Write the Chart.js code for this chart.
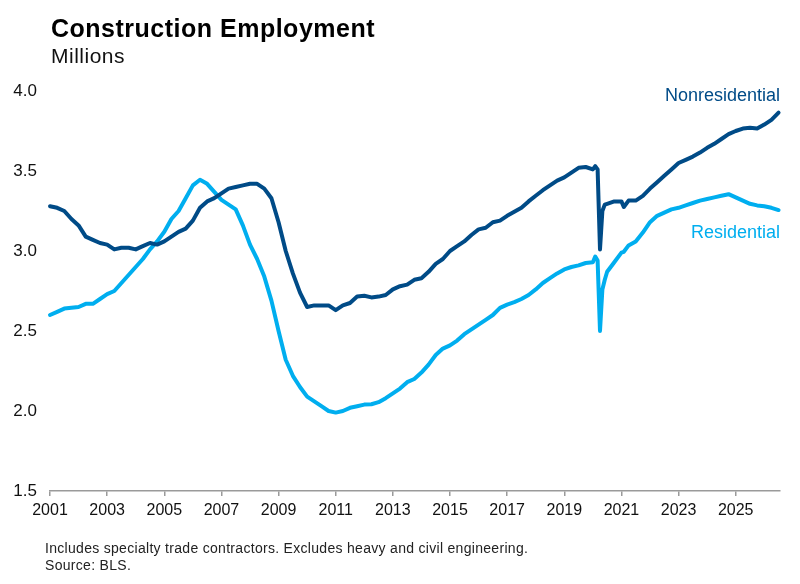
<!DOCTYPE html>
<html>
<head>
<meta charset="utf-8">
<script src="https://cdn.jsdelivr.net/npm/chart.js@4.4.1/dist/chart.umd.min.js"></script>
<style>
  html, body { margin: 0; padding: 0; background: #fff; }
  #wrap { position: relative; width: 800px; height: 584px; }
</style>
</head>
<body>
<div id="wrap"><canvas id="mychart" width="800" height="584"></canvas></div>
<script>
// construction employment, millions
const dates = [
  '2001-01','2001-04','2001-07','2001-10',
  '2002-01','2002-04','2002-07','2002-10',
  '2003-01','2003-04','2003-07','2003-10',
  '2004-01','2004-04','2004-07','2004-10',
  '2005-01','2005-04','2005-07','2005-10',
  '2006-01','2006-04','2006-07','2006-10',
  '2007-01','2007-04','2007-07','2007-10',
  '2008-01','2008-04','2008-07','2008-10',
  '2009-01','2009-04','2009-07','2009-10',
  '2010-01','2010-04','2010-07','2010-10',
  '2011-01','2011-04','2011-07','2011-10',
  '2012-01','2012-04','2012-07','2012-10',
  '2013-01','2013-04','2013-07','2013-10',
  '2014-01','2014-04','2014-07','2014-10',
  '2015-01','2015-04','2015-07','2015-10',
  '2016-01','2016-04','2016-07','2016-10',
  '2017-01','2017-04','2017-07','2017-10',
  '2018-01','2018-04','2018-07','2018-10',
  '2019-01','2019-04','2019-07','2019-10',
  '2020-01','2020-02','2020-03','2020-04','2020-05','2020-06','2020-07','2020-10',
  '2021-01','2021-02','2021-04','2021-07','2021-10',
  '2022-01','2022-04','2022-07','2022-10',
  '2023-01','2023-04','2023-07','2023-10',
  '2024-01','2024-04','2024-07','2024-10',
  '2025-01','2025-04','2025-07','2025-10',
  '2026-01','2026-04','2026-07'
]

const nonresidential = [
  3.28, 3.27, 3.25, 3.20,
  3.16, 3.09, 3.07, 3.05,
  3.04, 3.01, 3.02, 3.02,
  3.01, 3.03, 3.05, 3.04,
  3.06, 3.09, 3.12, 3.14,
  3.19, 3.27, 3.31, 3.33,
  3.36, 3.39, 3.40, 3.41,
  3.42, 3.42, 3.39, 3.33,
  3.18, 3.00, 2.86, 2.74,
  2.65, 2.66, 2.66, 2.66,
  2.63, 2.66, 2.675, 2.715,
  2.72, 2.71, 2.715, 2.725,
  2.76, 2.78, 2.79, 2.82,
  2.83, 2.87, 2.92, 2.95,
  3.00, 3.03, 3.06, 3.10,
  3.135, 3.145, 3.18, 3.19,
  3.22, 3.245, 3.27, 3.31,
  3.345, 3.38, 3.41, 3.44,
  3.46, 3.49, 3.52, 3.525,
  3.51, 3.53, 3.51, 3.01, 3.25, 3.29, 3.295, 3.31,
  3.31, 3.275, 3.315, 3.315, 3.345,
  3.39, 3.43, 3.47, 3.51,
  3.55, 3.57, 3.59, 3.615,
  3.645, 3.67, 3.70, 3.73,
  3.75, 3.765, 3.77, 3.765,
  3.79, 3.82, 3.865
]

const residential = [
  2.60, 2.62, 2.64, 2.645,
  2.65, 2.67, 2.67, 2.70,
  2.73, 2.75, 2.80, 2.85,
  2.90, 2.95, 3.01, 3.06,
  3.12, 3.20, 3.25, 3.33,
  3.41, 3.445, 3.42, 3.37,
  3.32, 3.29, 3.26, 3.16,
  3.04, 2.95, 2.84, 2.69,
  2.50, 2.32, 2.22, 2.15,
  2.09, 2.06, 2.03, 2.00,
  1.99, 2.00, 2.02, 2.03,
  2.04, 2.042, 2.055, 2.08,
  2.11, 2.14, 2.18, 2.20,
  2.24, 2.29, 2.35, 2.39,
  2.41, 2.44, 2.48, 2.51,
  2.54, 2.57, 2.60, 2.645,
  2.665, 2.68, 2.70, 2.725,
  2.76, 2.80, 2.83, 2.86,
  2.885, 2.90, 2.91, 2.925,
  2.93, 2.965, 2.94, 2.50, 2.76, 2.82, 2.87, 2.93,
  2.99, 2.995, 3.035, 3.06, 3.115,
  3.18, 3.22, 3.24, 3.26,
  3.27, 3.285, 3.30, 3.315,
  3.325, 3.335, 3.345, 3.355,
  3.335, 3.315, 3.295, 3.285,
  3.28, 3.27, 3.256
]

const xTickYears = [2001, 2003, 2005, 2007, 2009, 2011, 2013, 2015, 2017, 2019, 2021, 2023, 2025]
const yTicks = [1.5, 2.0, 2.5, 3.0, 3.5, 4.0]
const seriesNames = ['Nonresidential', 'Residential']

const darkBlue = '#004b87'
const lightBlue = '#00aeef'
const fontFam = '"Liberation Sans", Arial, Helvetica, sans-serif'

function toYear(d){
  let parts = d.split('-')
  return Number(parts[0]) + (Number(parts[1]) - 1) / 12
}

function points(values){
  return dates.map(function(d, i){ return { x: toYear(d), y: values[i] } })
}

// title, notes and the series labels at the right
const textPlugin = {
  id: 'texts',
  afterDraw(chart){
    const ctx = chart.ctx
    const area = chart.chartArea
    const yScale = chart.scales.y
    ctx.save()
    ctx.textAlign = 'left'
    ctx.textBaseline = 'alphabetic'
    ctx.fillStyle = '#000'
    ctx.letterSpacing = '0.5px'
    ctx.font = 'bold 25px ' + fontFam
    ctx.fillText('Construction Employment', 51, 37)
    ctx.font = '21px ' + fontFam
    ctx.fillStyle = '#111'
    ctx.fillText('Millions', 51, 63)

    ctx.letterSpacing = '0.3px'
    ctx.font = '14px ' + fontFam
    ctx.fillStyle = '#222'
    ctx.fillText('Includes specialty trade contractors. Excludes heavy and civil engineering.', 45, 553)
    ctx.fillText('Source: BLS.', 45, 570)

    ctx.letterSpacing = '0px'
    ctx.textAlign = 'right'
    ctx.textBaseline = 'middle'
    ctx.font = '18px ' + fontFam
    ctx.fillStyle = darkBlue
    ctx.fillText(seriesNames[0], area.right, yScale.getPixelForValue(3.97))
    ctx.fillStyle = lightBlue
    ctx.fillText(seriesNames[1], area.right, yScale.getPixelForValue(3.11))
    ctx.restore()
  }
}

const canvas = document.getElementById('mychart')
new Chart(canvas, {
  type: 'line',
  data: {
    datasets: [{
      label: seriesNames[0],
      data: points(nonresidential),
      borderColor: darkBlue,
      borderWidth: 4,
      pointRadius: 0,
      borderJoinStyle: 'round',
      borderCapStyle: 'round'
    }, {
      label: seriesNames[1],
      data: points(residential),
      borderColor: lightBlue,
      borderWidth: 4,
      pointRadius: 0,
      borderJoinStyle: 'round',
      borderCapStyle: 'round'
    }]
  },
  options: {
    responsive: false,
    animation: false,
    clip: false,
    layout: { padding: { top: 91, right: 20, bottom: 62, left: 0 } },
    plugins: {
      legend: { display: false },
      tooltip: { enabled: false }
    },
    scales: {
      x: {
        type: 'linear',
        min: 2001,
        max: 2026.55,
        afterBuildTicks: function(scale){
          scale.ticks = xTickYears.map(function(v){ return { value: v } })
        },
        afterFit: function(scale){ scale.height = 31 },
        grid: { display: true, drawOnChartArea: false, drawTicks: true, tickLength: 5, color: '#9a9a9a', lineWidth: 1.5 },
        border: { display: true, color: '#9a9a9a', width: 1.5 },
        ticks: {
          autoSkip: false,
          maxRotation: 0,
          padding: 5,
          color: '#111',
          font: { family: fontFam, size: 16 },
          callback: function(v){ return String(v) }
        }
      },
      y: {
        min: 1.5,
        max: 4.0,
        afterBuildTicks: function(scale){
          scale.ticks = yTicks.map(function(v){ return { value: v } })
        },
        afterFit: function(scale){ scale.width = 50 },
        grid: { display: false, drawTicks: false },
        border: { display: false },
        ticks: {
          padding: 13,
          color: '#111',
          font: { family: fontFam, size: 17 },
          callback: function(v){ return Number(v).toFixed(1) }
        }
      }
    }
  },
  plugins: [textPlugin]
})
</script>
</body>
</html>
